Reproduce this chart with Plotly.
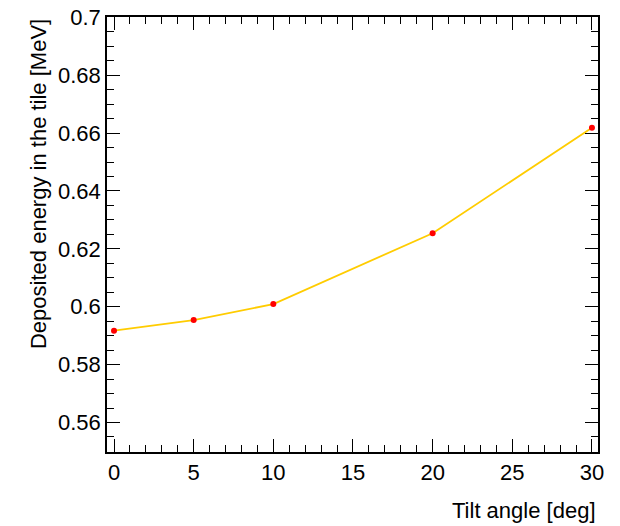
import plotly.graph_objects as go

# Deposited energy vs tilt angle
tilt_deg = [0, 5, 10, 20, 30]
energy_mev = [0.5917, 0.5954, 0.6009, 0.6254, 0.6618]

y_tick_vals = [0.56, 0.58, 0.60, 0.62, 0.64, 0.66, 0.68, 0.70]
y_tick_text = ["0.56", "0.58", "0.6", "0.62", "0.64", "0.66", "0.68", "0.7"]
x_tick_vals = [0, 5, 10, 15, 20, 25, 30]

FONT = "Liberation Sans, Arial, Helvetica, sans-serif"
FS = 22

fig = go.Figure()
fig.add_trace(go.Scatter(
    x=tilt_deg, y=energy_mev, mode="lines+markers",
    line=dict(color="#FFCC00", width=1.8),
    marker=dict(color="#FF0000", size=6),
    showlegend=False,
))

axis_common = dict(
    showline=True, linecolor="black", linewidth=1.5, mirror="allticks",
    ticks="inside", tickcolor="black", tickwidth=1,
    showgrid=False, zeroline=False, automargin=False,
    tickfont=dict(family=FONT, size=FS, color="black"),
)

fig.update_xaxes(
    range=[-0.44, 30.38], tickvals=x_tick_vals, ticklen=13,
    minor=dict(ticks="inside", dtick=1, tick0=0, ticklen=7, tickcolor="black", tickwidth=1),
    ticklabelstandoff=0,
    **axis_common,
)
fig.update_yaxes(
    range=[0.5498, 0.7001], tickvals=y_tick_vals, ticktext=y_tick_text, ticklen=13,
    minor=dict(ticks="inside", dtick=0.005, tick0=0.55, ticklen=7, tickcolor="black", tickwidth=1),
    ticklabelstandoff=0,
    **axis_common,
)

fig.add_annotation(
    text="Tilt angle [deg]", xref="paper", yref="paper", x=1.0, y=-0.1,
    xanchor="right", yanchor="top", showarrow=False,
    font=dict(family=FONT, size=FS, color="black"),
)
fig.add_annotation(
    text="Deposited energy in the tile [MeV]", xref="paper", yref="paper",
    x=-0.1405, y=1.0, xanchor="center", yanchor="top", textangle=-90, showarrow=False,
    font=dict(family=FONT, size=FS, color="black"),
)

fig.update_layout(
    width=620, height=526,
    margin=dict(l=107, r=22, t=17, b=74),
    paper_bgcolor="white", plot_bgcolor="white",
)

fig.write_html("out.html")
